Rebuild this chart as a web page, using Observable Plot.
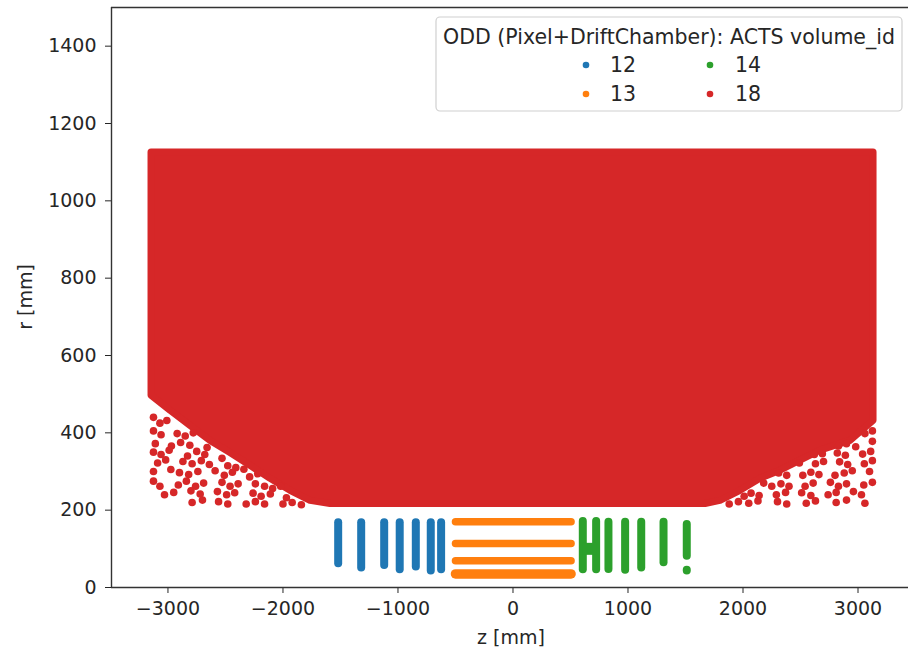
<!DOCTYPE html>
<html>
<head>
<meta charset="utf-8">
<script src="https://cdn.jsdelivr.net/npm/d3@7"></script>
<script src="https://cdn.jsdelivr.net/npm/@observablehq/plot@0.6"></script>
<style>
  html, body { margin: 0; padding: 0; background: #fff; }
  #wrap { position: relative; width: 908px; height: 649px; overflow: hidden; font-family: "DejaVu Sans", sans-serif; color: #262626; }
  .axlabel { position: absolute; font-size: 19px; white-space: nowrap; line-height: 1; }
</style>
</head>
<body>
<div id="wrap"></div>
<script>
// ---------- data ----------
const legendTitle = "ODD (Pixel+DriftChamber): ACTS volume_id";
const volumeIds = [12, 13, 14, 18];
const volumeColors = ["#1f77b4", "#ff7f0e", "#2ca02c", "#d62728"];
const xTicks = [-3000, -2000, -1000, 0, 1000, 2000, 3000];
const yTicks = [0, 200, 400, 600, 800, 1000, 1200, 1400];
const xDomain = [-3491, 3439];
const yDomain = [0, 1500];

// volume 12: pixel endcap (negative z) hit bands
const vol12Z = [-1520, -1320, -1120, -985, -845, -715, -625];
const vol12RMin = [63, 52, 58, 47, 54, 44, 47];
const vol12RMax = [169, 169, 169, 169, 169, 169, 169];

// volume 13: pixel barrel layers
const vol13R = [170, 114, 69, 35];
const vol13ZMin = [-500, -500, -500, -500];
const vol13ZMax = [505, 505, 505, 505];

// volume 14: pixel endcap (positive z) hit bands
const vol14Z = [607, 723, 830, 975, 1115, 1309, 1511, 1511];
const vol14RMin = [47, 47, 48, 46, 52, 65, 82, 44];
const vol14RMax = [172, 172, 170, 170, 170, 170, 164, 46];
// volume 14: merged hits between the two innermost bands
const vol14BridgeZ = [607, 723];
const vol14BridgeR = [100, 100];

// volume 18: drift chamber, dense core outline
const vol18EdgeZ = [-3143, -2978, -2804, -2630, -2457, -2283, -2109, -1935, -1761, -1587, 1674, 1804, 1978, 2152, 2326, 2500, 2674, 2935, 3135];
const vol18EdgeRLow = [496, 457, 418, 379, 348, 315, 281, 250, 224, 216, 216, 224, 250, 281, 302, 328, 354, 379, 431];
const vol18RTop = 1125;

// volume 18: sparse hits in the low-r corners (negative z)
const vol18LeftZ = [
  -3126, -3070, -3010,
  -3126, -3060, -2920, -2850, -2780,
  -3110, -2970, -2890, -2810, -2660,
  -3126, -3060, -2990, -2830, -2750, -2680, -2530,
  -3090, -3020, -2870, -2790, -2710, -2640, -2480, -2410, -2340,
  -3126, -2975, -2900, -2820, -2740, -2590, -2510, -2440, -2290, -2220,
  -3126, -3070, -2910, -2840, -2760, -2690, -2530, -2460, -2390, -2240, -2160, -2090, -2020,
  -3030, -2950, -2800, -2720, -2570, -2490, -2420, -2260, -2190, -2110, -1970,
  -2790, -2700, -2560, -2480, -2320, -2240, -2160, -2000, -1920, -1840
];
const vol18LeftR = [
  440, 425, 432,
  405, 395, 398, 392, 400,
  372, 366, 375, 368, 362,
  350, 344, 355, 340, 352, 344, 334,
  322, 330, 326, 320, 328, 318, 315, 310, 306,
  300, 305, 297, 292, 300, 302, 290, 298, 286, 294,
  275, 262, 265, 275, 262, 270, 272, 262, 268, 268, 262, 256, 262,
  240, 246, 250, 242, 248, 240, 245, 244, 236, 242, 232,
  220, 226, 222, 216, 216, 222, 216, 216, 220, 214
];

// volume 18: sparse hits in the low-r corners (positive z)
const vol18RightZ = [
  3125, 3060,
  3125, 2980, 2900, 2830,
  3110, 3040, 2890, 2820, 2690, 2620,
  3125, 3055, 2910, 2840, 2700, 2630, 2490,
  3100, 2950, 2880, 2800, 2660, 2590, 2520, 2380, 2310,
  3125, 3050, 2900, 2830, 2760, 2610, 2540, 2400, 2330, 2250, 2180,
  3030, 2960, 2810, 2740, 2590, 2510, 2370, 2290, 2140, 2070, 2010,
  3060, 2900, 2810, 2630, 2550, 2380, 2300, 2130, 2050, 1960, 1880
];
const vol18RightR = [
  405, 398,
  378, 364, 372, 366,
  352, 345, 342, 348, 346, 344,
  328, 320, 318, 325, 326, 320, 322,
  300, 302, 296, 290, 292, 298, 290, 290, 296,
  272, 265, 268, 262, 272, 270, 262, 262, 268, 262, 270,
  240, 248, 246, 240, 238, 245, 246, 240, 238, 244, 236,
  218, 226, 220, 224, 218, 216, 222, 224, 218, 222, 216
];

// ---------- tables built from the arrays ----------
const vol12 = vol12Z.map((z, i) => ({z, r1: vol12RMin[i], r2: vol12RMax[i]}));
const vol13 = vol13R.map((r, i) => ({r, z1: vol13ZMin[i], z2: vol13ZMax[i]}));
const vol14 = vol14Z.map((z, i) => ({z, r1: vol14RMin[i], r2: vol14RMax[i]}));
const vol14Bridge = [{z1: vol14BridgeZ[0], z2: vol14BridgeZ[1], r1: vol14BridgeR[0], r2: vol14BridgeR[1]}];
const vol18Edge = vol18EdgeZ.map((z, i) => ({z, r1: vol18EdgeRLow[i], r2: vol18RTop}));
const vol18Fringe = vol18LeftZ.map((z, i) => ({z, r: vol18LeftR[i]}))
  .concat(vol18RightZ.map((z, i) => ({z, r: vol18RightR[i]})));

const fmt = d3.format("d");
const spine = "#333";

const chart = Plot.plot({
  width: 908,
  height: 649,
  marginLeft: 111,
  marginRight: 0,
  marginTop: 7,
  marginBottom: 62,
  style: {fontFamily: "DejaVu Sans, sans-serif", fontSize: "19px", color: "#262626", background: "white", overflow: "visible"},
  x: {domain: xDomain, ticks: xTicks, tickFormat: fmt, tickSize: 6, tickPadding: 8, label: null},
  y: {domain: yDomain, ticks: yTicks, tickFormat: fmt, tickSize: 6, tickPadding: 9, label: null},
  marks: [
    Plot.areaY(vol18Edge, {x: "z", y1: "r1", y2: "r2", fill: volumeColors[3], stroke: volumeColors[3], strokeWidth: 7, strokeLinejoin: "round", curve: "linear"}),
    Plot.dot(vol18Fringe, {x: "z", y: "r", r: 3.8, fill: volumeColors[3], stroke: "none"}),
    Plot.link(vol12, {x1: "z", x2: "z", y1: "r1", y2: "r2", stroke: volumeColors[0], strokeWidth: 8, strokeLinecap: "round"}),
    Plot.link(vol13.slice(0, 3), {x1: "z1", x2: "z2", y1: "r", y2: "r", stroke: volumeColors[1], strokeWidth: 7.5, strokeLinecap: "round"}),
    Plot.link(vol13.slice(3), {x1: "z1", x2: "z2", y1: "r", y2: "r", stroke: volumeColors[1], strokeWidth: 9.5, strokeLinecap: "round"}),
    Plot.link(vol14, {x1: "z", x2: "z", y1: "r1", y2: "r2", stroke: volumeColors[2], strokeWidth: 8, strokeLinecap: "round"}),
    Plot.link(vol14Bridge, {x1: "z1", x2: "z2", y1: "r1", y2: "r2", stroke: volumeColors[2], strokeWidth: 12}),
    Plot.ruleX([xDomain[0]], {stroke: spine, strokeWidth: 1.4}),
    Plot.ruleY([yDomain[0]], {stroke: spine, strokeWidth: 1.4}),
    Plot.ruleY([yDomain[1]], {stroke: spine, strokeWidth: 1.4})
  ]
});

const wrap = document.getElementById("wrap");
wrap.appendChild(chart);

// legend drawn into the chart SVG
const svg = d3.select(chart);
const lg = svg.append("g").attr("font-family", "DejaVu Sans, sans-serif").attr("font-size", 20.5).attr("fill", "#262626");
lg.append("rect").attr("x", 436).attr("y", 17).attr("width", 466).attr("height", 94).attr("rx", 4)
  .attr("fill", "white").attr("fill-opacity", 0.85).attr("stroke", "#d0d0d0").attr("stroke-width", 1.2);
lg.append("text").attr("x", 669).attr("y", 37).attr("dy", "0.36em").attr("text-anchor", "middle").text(legendTitle);
const colX = [586, 710];
const labX = [623, 748];
const rowY = [65, 94];
volumeIds.forEach((id, i) => {
  const c = Math.floor(i / 2), r = i % 2;
  lg.append("circle").attr("cx", colX[c]).attr("cy", rowY[r]).attr("r", 3.3).attr("fill", volumeColors[i]);
  lg.append("text").attr("x", labX[c]).attr("y", rowY[r]).attr("dy", "0.36em").text(String(id));
});

// axis labels
const xl = document.createElement("div");
xl.className = "axlabel";
xl.textContent = "z [mm]";
xl.style.left = "511px"; xl.style.top = "637px"; xl.style.transform = "translate(-50%, -50%)";
wrap.appendChild(xl);
const yl = document.createElement("div");
yl.className = "axlabel";
yl.textContent = "r [mm]";
yl.style.left = "25px"; yl.style.top = "297px"; yl.style.transform = "translate(-50%, -50%) rotate(-90deg)";
wrap.appendChild(yl);
</script>
</body>
</html>
